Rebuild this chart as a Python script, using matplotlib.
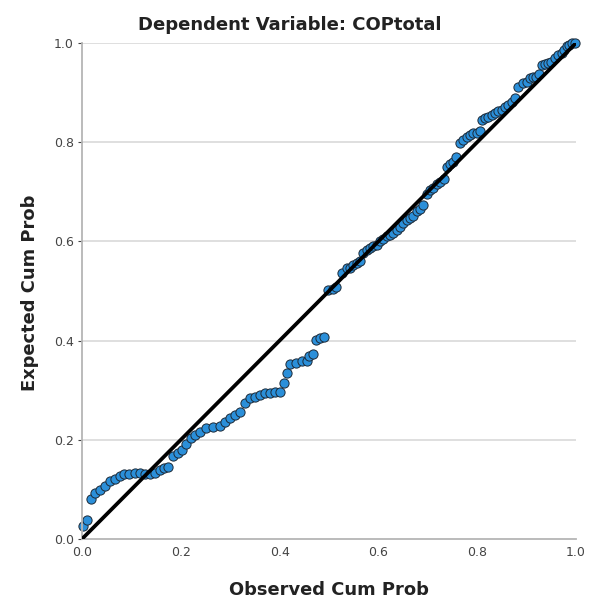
import matplotlib
matplotlib.use("Agg")
import matplotlib.pyplot as plt

# Normal P-P plot of regression standardized residual
title = "Dependent Variable: COPtotal"
x_label = "Observed Cum Prob"
y_label = "Expected Cum Prob"
ticks = [0.0, 0.2, 0.4, 0.6, 0.8, 1.0]
tick_labels = ["0.0", "0.2", "0.4", "0.6", "0.8", "1.0"]

observed = [
    0.002, 0.011, 0.019, 0.026, 0.036, 0.046, 0.056, 0.066, 0.076, 0.086,
    0.096, 0.107, 0.117, 0.127, 0.137, 0.147, 0.157, 0.167, 0.175,
    0.184, 0.194, 0.202, 0.211, 0.221, 0.228,
    0.239, 0.252, 0.266, 0.279, 0.289, 0.300, 0.310, 0.320, 0.330, 0.340,
    0.350, 0.360, 0.370, 0.381, 0.391, 0.401, 0.409, 0.416, 0.422, 0.433,
    0.445, 0.455, 0.460, 0.467, 0.474, 0.482, 0.490,
    0.499, 0.508, 0.515, 0.526, 0.536, 0.543, 0.549, 0.556, 0.563, 0.569,
    0.576, 0.583, 0.590, 0.597, 0.603, 0.610, 0.617, 0.623, 0.630, 0.637,
    0.644, 0.650, 0.657, 0.664, 0.671, 0.678, 0.684, 0.691,
    0.698, 0.704, 0.711, 0.718, 0.725, 0.732, 0.738, 0.745, 0.752, 0.758,
    0.765, 0.772, 0.779, 0.786, 0.792, 0.799, 0.805, 0.809, 0.816, 0.822,
    0.829, 0.836, 0.843, 0.850, 0.856, 0.863, 0.870, 0.876, 0.883, 0.893,
    0.900, 0.907, 0.913, 0.920, 0.926, 0.931, 0.938, 0.944, 0.950, 0.957,
    0.964, 0.971, 0.976, 0.981, 0.986, 0.991, 0.998,
]
expected = [
    0.026, 0.038, 0.080, 0.092, 0.099, 0.107, 0.116, 0.122, 0.127, 0.131,
    0.132, 0.134, 0.134, 0.132, 0.132, 0.134, 0.139, 0.143, 0.145,
    0.167, 0.173, 0.179, 0.191, 0.203, 0.210,
    0.216, 0.223, 0.225, 0.228, 0.236, 0.243, 0.250, 0.257, 0.275, 0.284,
    0.287, 0.290, 0.294, 0.295, 0.297, 0.297, 0.314, 0.334, 0.353, 0.355,
    0.358, 0.359, 0.368, 0.374, 0.401, 0.405, 0.407,
    0.502, 0.505, 0.509, 0.536, 0.546, 0.546, 0.552, 0.557, 0.560, 0.576,
    0.583, 0.586, 0.590, 0.593, 0.600, 0.605, 0.611, 0.613, 0.617, 0.622,
    0.630, 0.637, 0.643, 0.647, 0.652, 0.662, 0.666, 0.673,
    0.695, 0.704, 0.707, 0.715, 0.720, 0.726, 0.751, 0.756, 0.761, 0.770,
    0.798, 0.805, 0.811, 0.815, 0.818, 0.818, 0.822, 0.845, 0.848, 0.851,
    0.855, 0.858, 0.862, 0.865, 0.870, 0.875, 0.882, 0.890, 0.912, 0.919,
    0.922, 0.929, 0.931, 0.932, 0.938, 0.956, 0.958, 0.959, 0.962, 0.969,
    0.975, 0.979, 0.985, 0.993, 0.995, 0.999, 1.000,
]
ref_line = [0.0, 1.0]

fig = plt.figure(figsize=(5.91, 6.03), dpi=100)
ax = fig.add_axes([0.1387, 0.1061, 0.8359, 0.8226])

ax.set_xlim(0, 1)
ax.set_ylim(0, 1)

# grid lines
for t in ticks[1:]:
    ax.axhline(t, color="#dcdcdc", lw=1.3, zorder=0)

ax.scatter(observed, expected, s=44, color="#2b8fd9", edgecolors="#1c2a38",
           linewidths=0.7, zorder=2, clip_on=False)
ax.plot(ref_line, ref_line, color="black", lw=2.7, zorder=3,
        solid_capstyle="butt")

for side in ["top", "right"]:
    ax.spines[side].set_visible(False)
ax.spines["left"].set_color("#b5b5b5")
ax.spines["bottom"].set_color("#b5b5b5")
ax.spines["left"].set_linewidth(1.3)
ax.spines["bottom"].set_linewidth(1.3)

ax.set_xticks(ticks)
ax.set_xticklabels(tick_labels)
ax.set_yticks(ticks)
ax.set_yticklabels(tick_labels)
ax.tick_params(axis="both", labelsize=9, colors="#444444", length=3,
               width=0.8, pad=3)
ax.tick_params(axis="x", length=0, pad=5)

fig.text(0.49, 0.958, title, ha="center", va="center",
         fontsize=13, fontweight="bold", color="#222222")
fig.text(0.557, 0.022, x_label, ha="center", va="center",
         fontsize=12.9, fontweight="bold", color="#222222")
fig.text(0.05, 0.515, y_label, ha="center", va="center", rotation=90,
         fontsize=12.9, fontweight="bold", color="#222222")

fig.savefig("out.png", dpi=100, facecolor="white")
